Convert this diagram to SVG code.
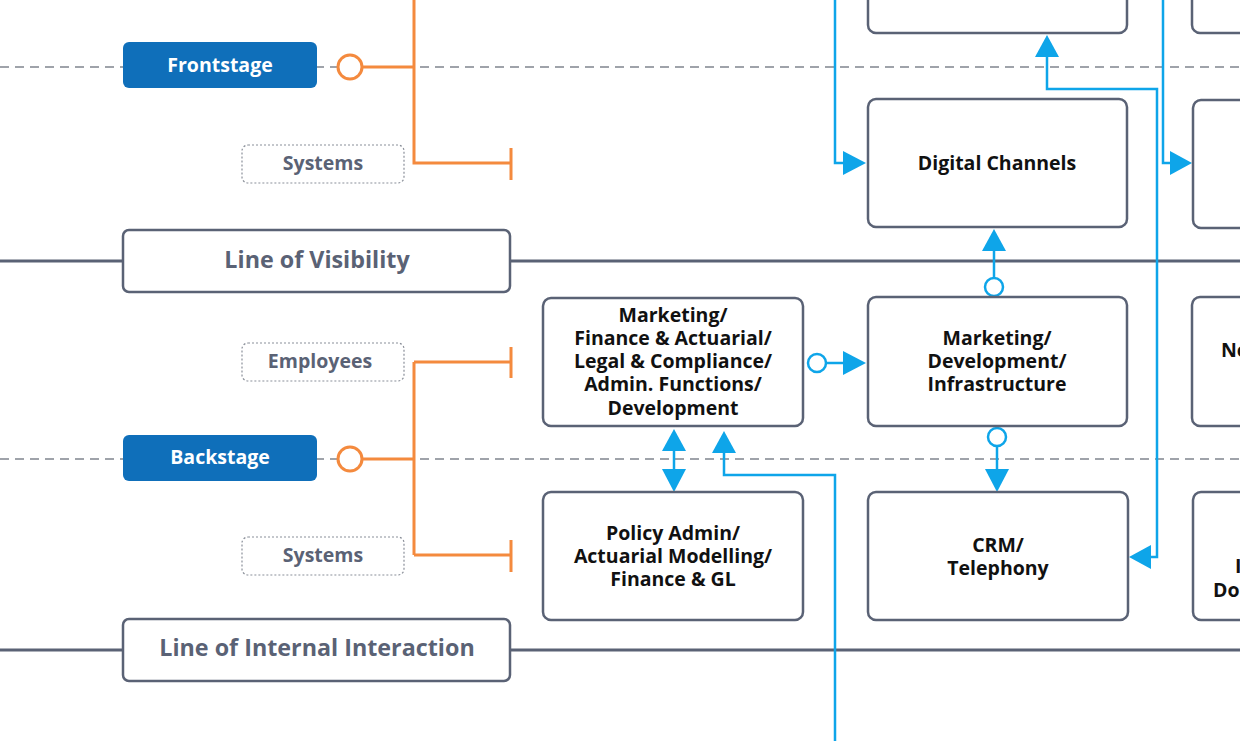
<svg xmlns="http://www.w3.org/2000/svg" width="1240" height="741" viewBox="0 0 1240 741">
<defs>
<style>
.dash{stroke:#80858f;stroke-width:1.6;stroke-dasharray:9 6;fill:none}
.solid{stroke:#5a6275;stroke-width:3;fill:none}
.lbl{fill:#fff;stroke:#5a6275;stroke-width:2.5}
.lbltxt{font-family:"Open Sans","Liberation Sans",sans-serif;font-weight:700;font-size:23.3px;fill:#5a6275;text-anchor:middle}
.stage{fill:#0f6fba}
.stagetxt{font-family:"Open Sans","Liberation Sans",sans-serif;font-weight:700;font-size:19.5px;fill:#fff;text-anchor:middle}
.tag{fill:#fff;stroke:#8a8f99;stroke-width:1.2;stroke-dasharray:2 2}
.tagtxt{font-family:"Open Sans","Liberation Sans",sans-serif;font-weight:700;font-size:19.5px;fill:#5a6275;text-anchor:middle}
.node{fill:#fff;stroke:#5a6275;stroke-width:2.5}
.ntxt{font-family:"Open Sans","Liberation Sans",sans-serif;font-weight:700;font-size:19.5px;fill:#111;text-anchor:middle}
.st{text-anchor:start}
.or{stroke:#f48a3e;stroke-width:3;fill:none}
.orc{stroke:#f48a3e;stroke-width:3;fill:#fff}
.bl{stroke:#0ea5e9;stroke-width:2.5;fill:none}
.blc{stroke:#0ea5e9;stroke-width:2.5;fill:#fff}
.ah{fill:#0ea5e9}
</style>
</defs>
<rect width="1240" height="741" fill="#fff"/>
<g id="lanes">
<line class="dash" x1="0" y1="67" x2="1240" y2="67"/>
<line class="dash" x1="0" y1="459" x2="1240" y2="459"/>
<line class="solid" x1="0" y1="261" x2="1240" y2="261"/>
<line class="solid" x1="0" y1="650" x2="1240" y2="650"/>
</g>
<g id="connectors">
<circle class="orc" cx="350" cy="67" r="12"/>
<path class="or" d="M362 67H414M414 0V163H511M511 148V180"/>
<circle class="orc" cx="350" cy="459" r="12"/>
<path class="or" d="M362 459H414M414 362V555M414 362H511M511 347V378M414 555H511M511 540V572"/>
<path class="bl" d="M835 0V163H845"/>
<polygon class="ah" points="843,151 866,163 843,175"/>
<path class="bl" d="M1163 0V163H1172"/>
<polygon class="ah" points="1170,151 1192,163 1170,175"/>
<path class="bl" d="M1151 557H1157V89H1047V55"/>
<polygon class="ah" points="1151,545 1129,557 1151,569"/>
<polygon class="ah" points="1035,57 1047,35 1059,57"/>
<circle class="blc" cx="994" cy="287" r="9"/>
<path class="bl" d="M994 278V249"/>
<polygon class="ah" points="982,251 994,229 1006,251"/>
<circle class="blc" cx="817" cy="363" r="9"/>
<path class="bl" d="M826 363H845"/>
<polygon class="ah" points="843,351 866,363 843,375"/>
<circle class="blc" cx="997" cy="437" r="9"/>
<path class="bl" d="M997 446V471"/>
<polygon class="ah" points="985,469 997,492 1009,469"/>
<path class="bl" d="M674 449V471"/>
<polygon class="ah" points="662,451 674,429 686,451"/>
<polygon class="ah" points="662,469 674,492 686,469"/>
<path class="bl" d="M724 451V475H835V741"/>
<polygon class="ah" points="712,453 724,431 736,453"/>
</g>
<g id="frontstage"><rect class="stage" x="123" y="42" width="194" height="46" rx="6"/><text class="stagetxt" x="220" y="72">Frontstage</text></g>
<g id="backstage"><rect class="stage" x="123" y="435" width="194" height="46" rx="6"/><text class="stagetxt" x="220" y="464">Backstage</text></g>
<g id="systems1"><rect class="tag" x="242" y="145" width="162" height="38" rx="6"/><text class="tagtxt" x="323" y="170">Systems</text></g>
<g id="employees"><rect class="tag" x="242" y="343" width="162" height="38" rx="6"/><text class="tagtxt" x="320" y="368">Employees</text></g>
<g id="systems2"><rect class="tag" x="242" y="537" width="162" height="38" rx="6"/><text class="tagtxt" x="323" y="562">Systems</text></g>
<g id="visibility"><rect class="lbl" x="123" y="230" width="387" height="62" rx="6"/><text class="lbltxt" x="317" y="268">Line of Visibility</text></g>
<g id="internal"><rect class="lbl" x="123" y="619" width="387" height="62" rx="6"/><text class="lbltxt" x="317" y="656">Line of Internal Interaction</text></g>
<g id="top-box"><rect class="node" x="868" y="-20" width="259" height="53" rx="8"/></g>
<g id="top-right-box"><rect class="node" x="1192" y="-20" width="80" height="53" rx="8"/></g>
<g id="digital"><rect class="node" x="868" y="99" width="259" height="128" rx="8"/><text class="ntxt" x="997" y="170">Digital Channels</text></g>
<g id="right-box-1"><rect class="node" x="1193" y="100" width="80" height="128" rx="8"/></g>
<g id="mkt-fin"><rect class="node" x="543" y="298" width="260" height="128" rx="8"/>
<text class="ntxt" x="673" y="322">Marketing/</text>
<text class="ntxt" x="673" y="345">Finance &amp; Actuarial/</text>
<text class="ntxt" x="673" y="368">Legal &amp; Compliance/</text>
<text class="ntxt" x="673" y="391">Admin. Functions/</text>
<text class="ntxt" x="673" y="415">Development</text></g>
<g id="mkt-dev"><rect class="node" x="868" y="297" width="259" height="129" rx="8"/>
<text class="ntxt" x="997" y="345">Marketing/</text>
<text class="ntxt" x="997" y="368">Development/</text>
<text class="ntxt" x="997" y="391">Infrastructure</text></g>
<g id="right-box-2"><rect class="node" x="1192" y="297" width="80" height="129" rx="8"/><text class="ntxt st" x="1221" y="357">Ne</text></g>
<g id="policy"><rect class="node" x="543" y="492" width="260" height="128" rx="8"/>
<text class="ntxt" x="673" y="540">Policy Admin/</text>
<text class="ntxt" x="673" y="563">Actuarial Modelling/</text>
<text class="ntxt" x="673" y="586">Finance &amp; GL</text></g>
<g id="crm"><rect class="node" x="868" y="492" width="260" height="128" rx="8"/>
<text class="ntxt" x="998" y="552">CRM/</text>
<text class="ntxt" x="998" y="575">Telephony</text></g>
<g id="right-box-3"><rect class="node" x="1193" y="492" width="80" height="128" rx="8"/>
<text class="ntxt st" x="1235" y="573">I</text>
<text class="ntxt st" x="1213" y="597">Do</text></g>
</svg>
